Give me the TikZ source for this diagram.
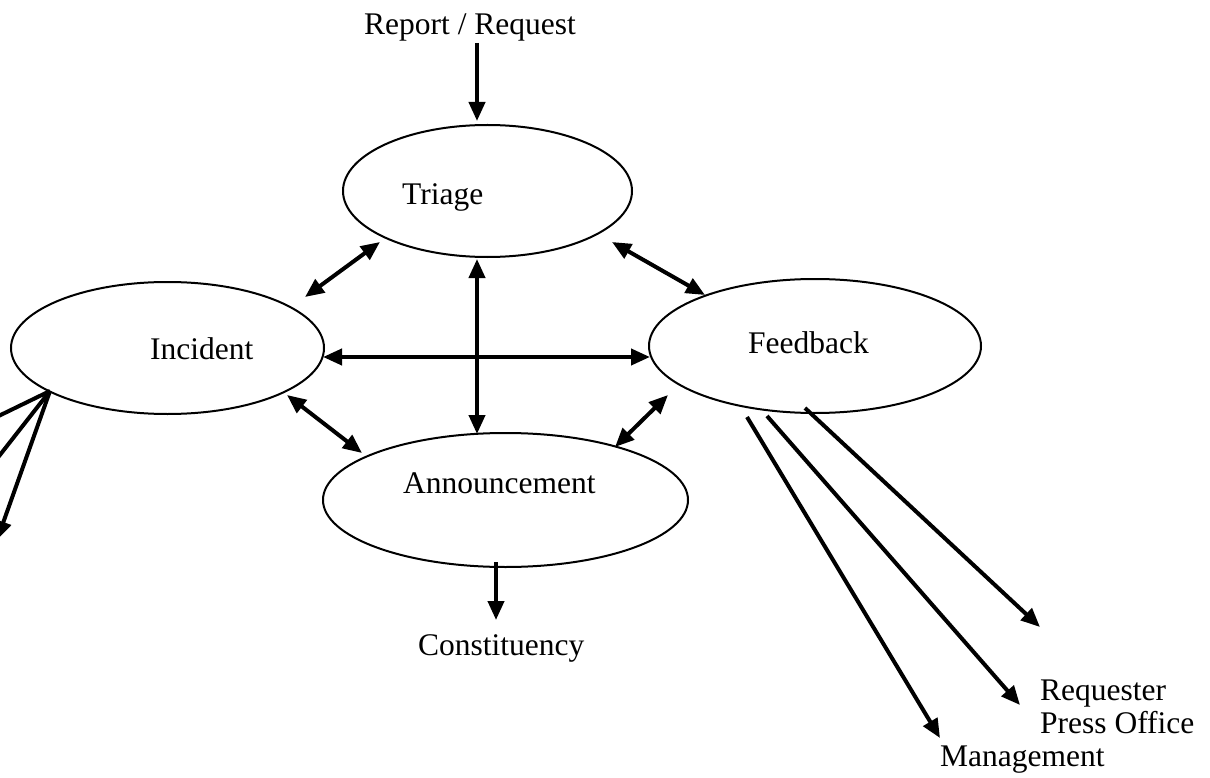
\documentclass[tikz,border=0pt]{standalone}
\usepackage{fontspec}
\setmainfont{Liberation Serif}
\usetikzlibrary{arrows.meta,shapes.geometric}

\tikzset{
  state/.style={ellipse, draw, line width=2pt, inner sep=0pt, outer sep=0pt},
  lbl/.style={anchor=base west, inner sep=0pt, font=\fontsize{31.5}{36}\selectfont},
  flow/.style={line width=4pt, -{Triangle[length=19pt,width=16pt]}},
  both/.style={line width=4pt, {Triangle[length=19pt,width=16pt]}-{Triangle[length=19pt,width=16pt]}},
}

\begin{document}
\begin{tikzpicture}[x=1pt,y=-1pt]
\useasboundingbox (0,0) rectangle (1210,778);
\clip (0,0) rectangle (1210,778);

% process states
\node[state, minimum width=289pt, minimum height=132pt] (tri) at (487.5,191) {};
\node[state, minimum width=313pt, minimum height=132pt] (inc) at (167.5,348) {};
\node[state, minimum width=332pt, minimum height=134pt] (fb)  at (815,346) {};
\node[state, minimum width=365pt, minimum height=134pt] (ann) at (505.5,500) {};

% state names
\node[lbl] (triT) at (402,205) {Triage};
\node[lbl] (incT) at (150,359) {Incident};
\node[lbl] (fbT)  at (748,353) {Feedback};
\node[lbl] (annT) at (403,493) {Announcement};

% inputs and outputs
\node[lbl, anchor=base] (rep) at (470,35) {Report / Request};
\node[lbl] (con) at (418,655) {Constituency};
\node[lbl] (req) at (1040,700) {Requester};
\node[lbl] (prs) at (1040,733) {Press Office};
\node[lbl] (mgt) at (940,766) {Management};

% connector end points
\coordinate (repA) at (477,43);
\coordinate (triTop) at (477,121);
\coordinate (triSW) at (380,242);
\coordinate (incNE) at (305,297);
\coordinate (triSE) at (612,242);
\coordinate (fbNW) at (705,295);
\coordinate (incE) at (323,357);
\coordinate (fbW) at (650,357);
\coordinate (triS) at (477,259);
\coordinate (annN) at (477,434);
\coordinate (incSE) at (287,395);
\coordinate (annNW) at (362,453);
\coordinate (annNE) at (615,447);
\coordinate (fbSW) at (668,395);
\coordinate (annS) at (496,562);
\coordinate (conN) at (496,620);
\coordinate (incSW) at (50,391);
\coordinate (outA) at (-22,426);
\coordinate (outB) at (-22,483);
\coordinate (outC) at (-3,540);
\coordinate (fbS1) at (747,417);
\coordinate (fbS2) at (767,416);
\coordinate (fbS3) at (805,408);
\coordinate (mgtA) at (940,738);
\coordinate (prsA) at (1020,705);
\coordinate (reqA) at (1040,627);

% flows
\draw[flow] (repA) -- (triTop);
\draw[both] (triSW) -- (incNE);
\draw[both] (triSE) -- (fbNW);
\draw[both] (incE) -- (fbW);
\draw[both] (triS) -- (annN);
\draw[both] (incSE) -- (annNW);
\draw[both] (annNE) -- (fbSW);
\draw[flow] (annS) -- (conN);
\draw[flow] (incSW) -- (outA);
\draw[flow] (incSW) -- (outB);
\draw[flow] (incSW) -- (outC);
\draw[flow] (fbS1) -- (mgtA);
\draw[flow] (fbS2) -- (prsA);
\draw[flow] (fbS3) -- (reqA);
\end{tikzpicture}
\end{document}
